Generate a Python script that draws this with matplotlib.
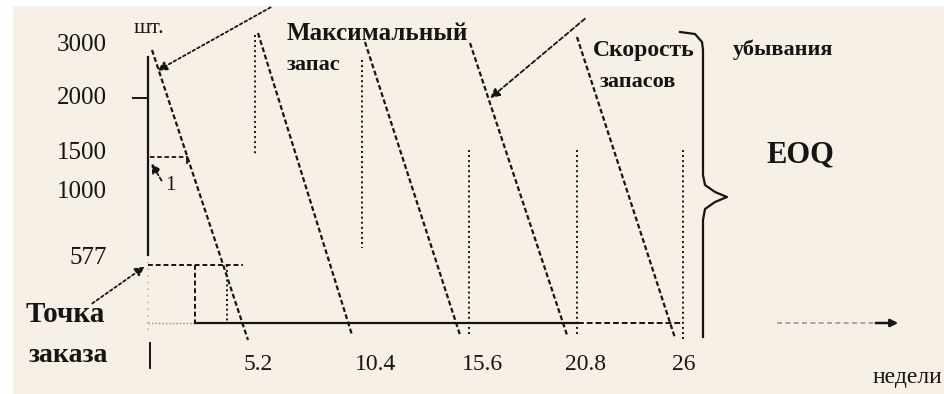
import matplotlib
matplotlib.use("Agg")
import matplotlib.pyplot as plt
from matplotlib.patches import Rectangle

plt.rcParams['font.family'] = ['Liberation Serif', 'DejaVu Serif']

# x in weeks, y in schematic stock units (baseline = 0)
cycle_weeks = [0, 5.2, 10.4, 15.6, 20.8, 26]
tick_labels = ["", "5.2", "10.4", "15.6", "20.8", "26"]
tick_shift = [0, -0.5, -0.15, 0, -0.05, 0.1]

stock_labels = ["3000", "2000", "1500", "1000", "577"]
stock_label_pos = [278, 225, 170, 131, 65]

# depletion (dashed) lines of each cycle
drop_start_w = [0.2, 5.5, 10.85, 16.1, 21.45]
drop_top = [273, 290, 281, 280, 286]
drop_end_w = [5.0, 10.2, 15.6, 20.95, 26.35]
drop_bottom = [-17, -12, -12, -12, -15]

# replenishment (dotted) verticals
refill_w = [5.35, 10.7, 16.05, 21.45, 26.75]
refill_top = [288, 263, 173, 173, 173]
refill_bottom = [168, 75, -12, -12, -17]

reorder_level = 58
lead_start, lead_end = 2.35, 3.95
rate_level = 166

# curly brace for EOQ
brace_w = [26.6, 27.35, 27.7, 27.75, 27.75, 27.85, 28.35, 28.95, 28.35, 27.85, 27.75, 27.75]
brace_y = [291, 289, 281, 273, 148, 138, 131, 126, 121, 114, 103, -14]

ink = '#151515'

fig = plt.figure(figsize=(9.45, 3.94), dpi=100, facecolor='white')
ax = fig.add_axes([0, 0, 1, 1])
ax.set_xlim(-7.4, 39.85)
ax.set_ylim(-71, 323)
ax.axis('off')
ax.add_patch(Rectangle((13 / 945, 0), 1, 1 - 6 / 394, transform=ax.transAxes,
                       facecolor='#f6f0e6', edgecolor='none', zorder=0))

# sawtooth
for x0, y0, x1, y1 in zip(drop_start_w, drop_top, drop_end_w, drop_bottom):
    ax.plot([x0, x1], [y0, y1], color=ink, lw=1.6, ls=(0, (2.2, 1.2)))
for x, y0, y1 in zip(refill_w, refill_top, refill_bottom):
    ax.plot([x, x], [y0, y1], color=ink, lw=1.4, ls=(0, (1, 1.6)))

# axes
ax.plot([0, 0], [68, 266], color=ink, lw=1.6)
ax.plot([0, 0], [-7, 61], color='#bbbbbb', lw=1.2, ls=(0, (1, 3)))
ax.plot([0.1, 0.1], [-20, -45], color=ink, lw=1.4)
ax.plot([-0.75, 0], [225, 225], color=ink, lw=1.4)
ax.plot([0, lead_start], [0, 0], color='#888888', lw=1.0, ls=(0, (1, 1.5)))
ax.plot([lead_start, 21.5], [0, 0], color=ink, lw=1.6)
ax.plot([21.5, refill_w[-1]], [0, 0], color=ink, lw=1.4, ls=(0, (3, 1.5)))
ax.plot([31.45, 36.25], [0, 0], color='#999999', lw=1.2, ls=(0, (3, 2)))
ax.annotate('', xy=(37.65, 0), xytext=(36.25, 0),
            arrowprops=dict(arrowstyle='-|>', color=ink, lw=1.8, mutation_scale=11))

# reorder point and lead time
ax.plot([0, 4.75], [reorder_level, reorder_level], color=ink, lw=1.4, ls=(0, (2.5, 1.5)))
ax.plot([lead_start, lead_start], [reorder_level, 0], color=ink, lw=1.4, ls=(0, (2.5, 1.5)))
ax.plot([lead_end, lead_end], [reorder_level, 0], color=ink, lw=1.4, ls=(0, (1, 1.5)))
ax.plot([0.1, 1.95], [rate_level, rate_level], color=ink, lw=1.3, ls=(0, (2.5, 1.5)))
ax.plot([1.95, 1.95], [rate_level, rate_level - 6], color=ink, lw=1.3)

# arrows
arrow_kw = dict(arrowstyle='-|>', color=ink, lw=1.3, mutation_scale=14)
ax.annotate('', xy=(0.35, 251), xytext=(6.25, 317),
            arrowprops=dict(arrow_kw, linestyle=(0, (1.5, 1.5))))
ax.annotate('', xy=(17.0, 223), xytext=(21.95, 306),
            arrowprops=dict(arrow_kw, linestyle=(0, (2.5, 1.5))))
ax.annotate('', xy=(-0.05, reorder_level), xytext=(-2.9, 18),
            arrowprops=dict(arrow_kw, linestyle=(0, (1.5, 1.5))))
ax.annotate('', xy=(0.1, 162), xytext=(0.75, 140),
            arrowprops=dict(arrow_kw, linestyle=(0, (2, 1.5))))

ax.plot(brace_w, brace_y, color=ink, lw=1.6)

# labels
ax.text(0.05, 295, 'шт.', fontsize=16, ha='center', va='center', color=ink)
for lab, y in zip(stock_labels, stock_label_pos):
    ax.text(-2.05, y, lab, fontsize=18, ha='right', va='center', color=ink)
for w, lab, s in zip(cycle_weeks, tick_labels, tick_shift):
    ax.text(w + 0.1 + s, -41, lab, fontsize=17, ha='left', va='center', color=ink)
ax.text(0.85, 138, '1', fontsize=15, ha='left', va='center', color=ink)

ax.text(-6.1, 8, 'Точка', fontsize=21, fontweight='bold', ha='left', va='center', color=ink)
ax.text(-5.95, -32, 'заказа', fontsize=20, fontweight='bold', ha='left', va='center', color=ink)
ax.text(6.95, 290, 'Максимальный', fontsize=18, fontweight='bold', ha='left', va='center', color=ink)
ax.text(6.95, 258, 'запас', fontsize=16, fontweight='bold', ha='left', va='center', color=ink)
ax.text(22.25, 273, 'Скорость', fontsize=17, fontweight='bold', ha='left', va='center', color=ink)
ax.text(29.25, 273, 'убывания', fontsize=16, fontweight='bold', ha='left', va='center', color=ink)
ax.text(22.6, 241, 'запасов', fontsize=16, fontweight='bold', ha='left', va='center', color=ink)
ax.text(32.6, 168, 'EOQ', fontsize=22, fontweight='bold', ha='center', va='center', color=ink)
ax.text(36.25, -55, 'недели', fontsize=17, ha='left', va='center', color=ink)

fig.savefig('out.png', dpi=100, facecolor=fig.get_facecolor())
